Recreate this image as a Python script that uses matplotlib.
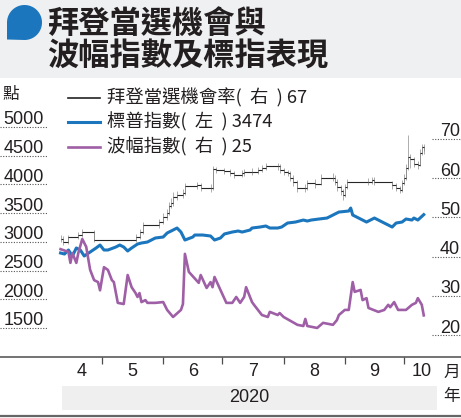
import matplotlib
matplotlib.use("Agg")
import matplotlib.pyplot as plt
import matplotlib.dates as mdates
from matplotlib.patches import Rectangle, Polygon
from matplotlib.transforms import blended_transform_factory
import numpy as np
import pandas as pd

# ---------------- data (x values are days counted from BASE) ----------------
BASE = "2020-05-01"

vix_day = [-21, -17, -16, -15, -13, -12, -10, -8, -6, -4, -2, -1, 1, 3, 5, 6, 8, 11, 13, 15,
           17, 18, 19, 20, 22, 23, 27, 31, 33, 36, 40, 41, 42, 44, 49, 50, 53, 55, 56, 57,
           63, 66, 68, 70, 72, 73, 76, 77, 81, 84, 85, 89, 90, 92, 99, 102, 103, 104, 109, 112,
           117, 119, 120, 123, 125, 127, 128, 131, 132, 134, 135, 140, 143, 145, 146, 148, 150, 154, 157, 159,
           160, 162, 163]
vix_val = [41.9, 41.2, 38.4, 40.9, 38.4, 40.9, 44.5, 42.5, 36.6, 34.0, 33.5, 31.4, 37.3, 36.6, 34.0, 33.5, 28.2, 27.9, 35.3, 32.2,
           30.7, 29.7, 30.7, 28.4, 28.9, 28.2, 28.2, 28.4, 26.4, 24.6, 26.4, 27.9, 40.7, 36.1, 33.3, 35.3, 32.0, 33.5, 32.2, 34.8,
           28.2, 28.2, 29.7, 28.2, 29.7, 32.2, 28.4, 27.7, 25.1, 24.6, 25.9, 25.1, 25.6, 24.6, 22.6, 22.3, 24.1, 22.3, 21.8, 23.1,
           22.6, 23.8, 25.1, 26.4, 26.4, 33.5, 31.0, 31.5, 28.9, 29.4, 26.9, 25.9, 26.4, 27.7, 27.1, 28.4, 26.4, 26.4, 27.7, 28.2,
           29.4, 27.7, 25.0]

spx_day = [-21, -19, -17, -15, -13, -11, -9, -6, -3, -1, 1, 3, 7, 9, 11, 13, 15, 18, 20, 23,
           27, 31, 33, 36, 38, 40, 42, 46, 47, 51, 55, 57, 60, 62, 66, 69, 71, 75, 76, 80,
           83, 85, 89, 91, 94, 98, 102, 104, 106, 110, 114, 117, 120, 125, 126, 127, 130, 132, 134, 138,
           142, 145, 147, 149, 152, 154, 157, 158, 160, 163]
spx_val = [2806, 2788, 2858, 2754, 2893, 2858, 2754, 2823, 2893, 2945, 2858, 2858, 2910, 2945, 2910, 2841, 2893, 2962, 2980, 2997,
           3067, 3084, 3154, 3206, 3241, 3171, 3032, 3084, 3119, 3119, 3102, 3032, 3067, 3137, 3171, 3189, 3171, 3206, 3241, 3258,
           3276, 3241, 3241, 3258, 3328, 3345, 3380, 3363, 3380, 3398, 3415, 3467, 3519, 3537, 3589, 3467, 3415, 3380, 3345, 3415,
           3345, 3293, 3258, 3328, 3345, 3398, 3380, 3415, 3380, 3474]

odds_day = [-21, -20, -17, -12, -10, -4, 17, 19, 21, 29, 31, 33, 34, 35, 36, 38, 41, 42, 48, 50,
            55, 56, 58, 62, 65, 67, 71, 72, 76, 79, 81, 83, 89, 90, 92, 94, 95, 97, 99, 103,
            104, 108, 111, 117, 118, 119, 121, 122, 123, 124, 135, 137, 138, 147, 149, 151, 152, 153, 154, 155,
            156, 158, 160, 161, 162, 163]
odds_val = [44.5, 43.7, 45.0, 45.5, 46.2, 44.2, 45.0, 46.3, 48.1, 48.8, 50.0, 51.1, 53.0, 53.7, 55.2, 55.8, 56.2, 58.0, 58.2, 57.5,
            57.5, 62.3, 62.0, 61.8, 61.3, 60.8, 61.2, 61.6, 61.6, 62.1, 62.6, 63.1, 63.1, 62.1, 61.6, 61.3, 60.1, 59.0, 57.5, 57.5,
            58.8, 58.6, 60.1, 60.1, 59.0, 57.8, 56.8, 55.8, 57.8, 59.0, 59.0, 59.5, 59.0, 58.2, 57.5, 57.0, 58.8, 60.1, 62.7, 65.5,
            64.8, 63.6, 63.3, 66.4, 68.0, 67.0]
odds_low = [43.8, 43.0, 43.2, 44.6, 45.0, 43.6, 43.6, 44.5, 45.8, 47.4, 48.2, 49.4, 50.6, 52.4, 53.0, 54.5, 55.0, 55.6, 57.2, 56.8,
            56.6, 57.0, 61.2, 61.0, 60.6, 60.0, 60.2, 60.6, 60.8, 61.0, 61.6, 62.0, 62.2, 61.4, 60.8, 60.5, 59.2, 58.0, 56.6, 56.6,
            57.0, 57.6, 58.2, 59.2, 58.2, 56.8, 55.8, 54.4, 55.2, 57.2, 58.2, 58.4, 58.2, 57.2, 56.8, 56.2, 56.6, 58.2, 59.6, 62.0,
            62.5, 62.8, 62.4, 63.0, 65.8, 66.2]
odds_high = [45.5, 45.2, 45.6, 46.2, 47.0, 46.8, 45.7, 47.0, 48.8, 49.6, 51.0, 52.2, 54.0, 55.0, 56.4, 56.8, 57.2, 58.9, 59.0, 58.8,
             58.4, 63.0, 62.9, 62.6, 62.4, 61.8, 62.0, 62.3, 62.5, 62.8, 63.4, 63.8, 64.0, 63.6, 62.7, 62.2, 61.8, 60.8, 59.6, 58.6,
             59.6, 59.8, 61.0, 61.2, 60.8, 59.8, 58.2, 57.2, 58.6, 59.8, 60.0, 60.2, 60.2, 59.4, 58.8, 58.0, 59.6, 61.0, 63.6, 71.0,
             66.2, 65.4, 64.4, 67.4, 68.8, 68.6]

left_ticks = [1500, 2000, 2500, 3000, 3500, 4000, 4500, 5000]
right_ticks = [20, 30, 40, 50, 60, 70]
month_starts = ["2020-04-01", "2020-05-01", "2020-06-01", "2020-07-01",
                "2020-08-01", "2020-09-01", "2020-10-01", "2020-11-01"]
month_labels = ["4", "5", "6", "7", "8", "9", "10"]
year_label = "2020"
title_lines = ["拜登當選機會與", "波幅指數及標指表現"]
legend_names = ["拜登當選機會率", "標普指數", "波幅指數"]
legend_sides = ["右", "左", "右"]

# ---------------- style ----------------
CJK = ["Noto Sans CJK TC", "DejaVu Sans"]
NUM = ["Liberation Sans", "DejaVu Sans"]
TXT = "#231f20"
BLUE = "#1b76bd"
PURPLE = "#9f5fa6"

W, H = 461, 418
fig = plt.figure(figsize=(W / 100, H / 100), dpi=100)
fig.patch.set_facecolor("white")


def fx(px):
    return px / W


def fy(py):
    return 1 - py / H


# title block
fig.patches.append(Rectangle((0, fy(78)), 1, fy(0) - fy(78), transform=fig.transFigure,
                             facecolor="#eff0f2", edgecolor="none", zorder=0))
cx, cy, r = 24.5, 22.5, 17.5
ang = np.radians(np.linspace(-90, 180, 80))
pts = [(fx(cx + r * np.cos(a)), fy(cy - r * np.sin(a))) for a in ang]
pts.append((fx(7.0), fy(39.5)))
fig.patches.append(Polygon(pts, closed=True, transform=fig.transFigure,
                           facecolor=BLUE, edgecolor="none", zorder=1))
fig.text(fx(47), fy(24), title_lines[0], family=CJK, weight="bold", fontsize=22.5,
         color=TXT, ha="left", va="center")
fig.text(fx(47), fy(56), title_lines[1], family=CJK, weight="bold", fontsize=22.5,
         color=TXT, ha="left", va="center")

# ---------------- axes ----------------
base = mdates.date2num(pd.Timestamp(BASE))
PX0, PX_PER_DAY = 102.0, 1.974


def dnum(days):
    return base + np.asarray(days, dtype=float)


ax = fig.add_axes([0, fy(357), 1, fy(80) - fy(357)])
ax.set_xlim(base + (0 - PX0) / PX_PER_DAY, base + (W - PX0) / PX_PER_DAY)
ax.set_ylim(995.0, 5818.4)
ax.patch.set_alpha(0)
ax2 = ax.twinx()
ax2.set_ylim(14.39, 85.05)
ax2.patch.set_alpha(0)

for a in (ax, ax2):
    for s in ("left", "right", "top"):
        a.spines[s].set_visible(False)
    a.set_yticks([])
ax2.spines["bottom"].set_visible(False)
ax.spines["bottom"].set_color("#4d4d4d")
ax.spines["bottom"].set_linewidth(1.1)

ms = [mdates.date2num(pd.Timestamp(m)) for m in month_starts]
ax.set_xticks(ms[1:-1])
ax.set_xticklabels([])
ax.tick_params(axis="x", direction="out", length=5, width=0.9, color="#4d4d4d")

# odds: range ticks (grey), grey risers, dark horizontal steps
ox = dnum(odds_day)
ax2.vlines(ox, odds_low, odds_high, color="#a0a0a0", lw=0.6, zorder=2)
ax2.vlines(ox[1:], odds_val[:-1], odds_val[1:], color="#8a8a8a", lw=0.6, zorder=2)
ax2.hlines(odds_val[:-1], ox[:-1], ox[1:], color="#262626", lw=0.8, zorder=3)

ax.plot(dnum(spx_day), spx_val, color=BLUE, lw=2.2, solid_joinstyle="round", zorder=3)
ax2.plot(dnum(vix_day), vix_val, color=PURPLE, lw=1.9, solid_joinstyle="round", zorder=4)

# y labels with short dotted guides
bl = blended_transform_factory(ax.transAxes, ax.transData)
for t in left_ticks:
    ax.plot([0, fx(47)], [t, t], transform=bl, ls=(0, (1, 1.4)), color="#555555",
            lw=0.8, clip_on=False)
    ax.annotate(str(t), xy=(fx(43.5), t), xycoords=bl, xytext=(0, 2.5),
                textcoords="offset pixels", ha="right", va="baseline",
                family=NUM, fontsize=13, color=TXT)
br = blended_transform_factory(ax2.transAxes, ax2.transData)
for t in right_ticks:
    ax2.plot([fx(432), 1], [t, t], transform=br, ls=(0, (1, 1.4)), color="#555555",
             lw=0.8, clip_on=False)
    ax2.annotate(str(t), xy=(fx(460), t), xycoords=br, xytext=(0, 2.5),
                 textcoords="offset pixels", ha="right", va="baseline",
                 family=NUM, fontsize=13, color=TXT)

fig.text(fx(2), fy(95), "點", family=CJK, fontsize=12, color=TXT, ha="left", va="center")

# month labels centred on the visible part of each month
d0 = dnum(min(vix_day + spx_day + odds_day))
d1 = dnum(max(vix_day + spx_day + odds_day)) + 8
bx = blended_transform_factory(ax.transData, fig.transFigure)
for i, lab in enumerate(month_labels):
    a0 = max(ms[i], d0)
    a1 = min(ms[i + 1], d1)
    ax.text((a0 + a1) / 2, fy(372), lab, transform=bx, ha="center", va="center",
            family=NUM, fontsize=13, color=TXT)
fig.text(fx(452), fy(372), "月", family=CJK, fontsize=12, color=TXT, ha="center", va="center")
fig.text(fx(452), fy(397), "年", family=CJK, fontsize=12, color=TXT, ha="center", va="center")

fig.patches.append(Rectangle((fx(62), fy(410)), fx(437) - fx(62), fy(386) - fy(410),
                             transform=fig.transFigure, facecolor="#efefef",
                             edgecolor="none", zorder=0))
fig.text((fx(62) + fx(437)) / 2, fy(398), year_label, family=NUM, fontsize=13,
         color=TXT, ha="center", va="center")
fig.add_artist(plt.Line2D([0, 1], [fy(416), fy(416)], transform=fig.transFigure,
                          color="#666666", lw=1.6))

# legend
latest = [odds_val[-1], spx_val[-1], vix_val[-1]]
colors = ["#222222", BLUE, PURPLE]
widths = [1.2, 2.2, 1.9]
rows = [98, 122, 147]
for name, side, val, c, lw, yy in zip(legend_names, legend_sides, latest, colors, widths, rows):
    fig.add_artist(plt.Line2D([fx(68), fx(100)], [fy(yy), fy(yy)], transform=fig.transFigure,
                              color=c, lw=lw))
    fig.text(fx(107), fy(yy), f"{name}(  {side}  ) {val:.0f}", family=CJK, fontsize=13.2,
             color=TXT, ha="left", va="center")

fig.savefig("out.png", dpi=100)
